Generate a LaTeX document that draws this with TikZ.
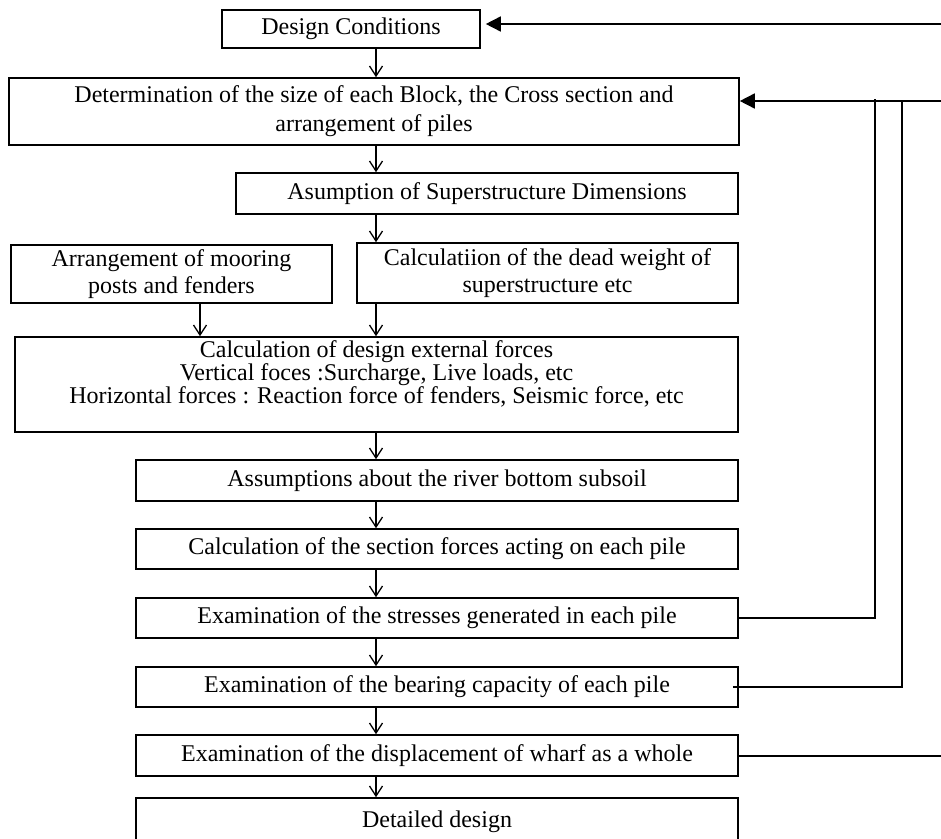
\documentclass[tikz,border=0pt]{standalone}
\usepackage{fontspec}
\setmainfont{Liberation Serif}
\usetikzlibrary{arrows.meta}
\begin{document}
\begin{tikzpicture}[x=1pt,y=-1pt,
  box/.style={draw, line width=1.6pt, rectangle, inner sep=0pt, align=center,
    font=\fontsize{24}{27}\selectfont},
  plain/.style={inner sep=0pt, align=center, font=\fontsize{24}{23}\selectfont},
  flow/.style={line width=1.3pt, -{Straight Barb[length=10pt,width=13pt,line width=1.3pt]}},
  fb/.style={line width=1.6pt},
  fbarrow/.style={line width=1.6pt, -{Triangle[length=15pt,width=15pt]}}]
\useasboundingbox (0,0) rectangle (941,838);
\fill[white] (0,0) rectangle (941,838);

\node[box, minimum width=258pt, minimum height=38pt] (dc) at (351,29) {Design Conditions};
\node[box, minimum width=730pt, minimum height=67pt] (det) at (374,111.5)
  {Determination of the size of each Block, the Cross section and\\[2pt] arrangement of piles};
\node[box, minimum width=502pt, minimum height=41pt] (asum) at (487,193.5) {Asumption of Superstructure Dimensions};
\node[box, minimum width=321pt, minimum height=58pt] (arr) at (171.5,274)
  {Arrangement of mooring\\ posts and fenders};
\node[box, minimum width=381pt, minimum height=60pt] (cdw) at (547.5,273)
  {Calculatiion of the dead weight of\\ superstructure etc};
\node[box, minimum width=723pt, minimum height=95pt] (ext) at (376.5,384.5) {};
\node[plain] (extT) at (376.5,374)
  {Calculation of design external forces\\ Vertical foces :Surcharge, Live loads, etc\\ Horizontal forces : Reaction force of fenders, Seismic force, etc};
\node[box, minimum width=602pt, minimum height=41pt] (soil) at (437,480.5) {Assumptions about the river bottom subsoil};
\node[box, minimum width=602pt, minimum height=40pt] (sec) at (437,549) {Calculation of the section forces acting on each pile};
\node[box, minimum width=602pt, minimum height=40pt] (str) at (437,618) {Examination of the stresses generated in each pile};
\node[box, minimum width=602pt, minimum height=40pt] (bear) at (437,687) {Examination of the bearing capacity of each pile};
\node[box, minimum width=602pt, minimum height=41pt] (disp) at (437,755.5) {Examination of the displacement of wharf as a whole};
\node[box, minimum width=602pt, minimum height=48pt] (fin) at (437,822) {Detailed design};

\coordinate (ax) at (376,0);
\coordinate (bx) at (200,0);
\draw[flow] (dc.south -| ax) -- (det.north -| ax);
\draw[flow] (det.south -| ax) -- (asum.north -| ax);
\draw[flow] (asum.south -| ax) -- (cdw.north -| ax);
\draw[flow] (arr.south -| bx) -- (ext.north -| bx);
\draw[flow] (cdw.south -| ax) -- (ext.north -| ax);
\draw[flow] (ext.south -| ax) -- (soil.north -| ax);
\draw[flow] (soil.south -| ax) -- (sec.north -| ax);
\draw[flow] (sec.south -| ax) -- (str.north -| ax);
\draw[flow] (str.south -| ax) -- (bear.north -| ax);
\draw[flow] (bear.south -| ax) -- (disp.north -| ax);
\draw[flow] (disp.south -| ax) -- (fin.north -| ax);

\coordinate (r1) at (941,24);
\coordinate (r2) at (941,101);
\coordinate (v1) at (875,99);
\coordinate (v2) at (902,101);
\coordinate (r3) at (941,756);
\draw[fbarrow, shorten >=5pt] (r1) -- (r1 -| dc.east);
\draw[fbarrow] (r2) -- (r2 -| det.east);
\draw[fb] (str.east) -| (v1);
\draw[fb] ([xshift=-6pt]bear.east) -| (v2);
\draw[fb] (disp.east |- r3) -- (r3);
\end{tikzpicture}
\end{document}
